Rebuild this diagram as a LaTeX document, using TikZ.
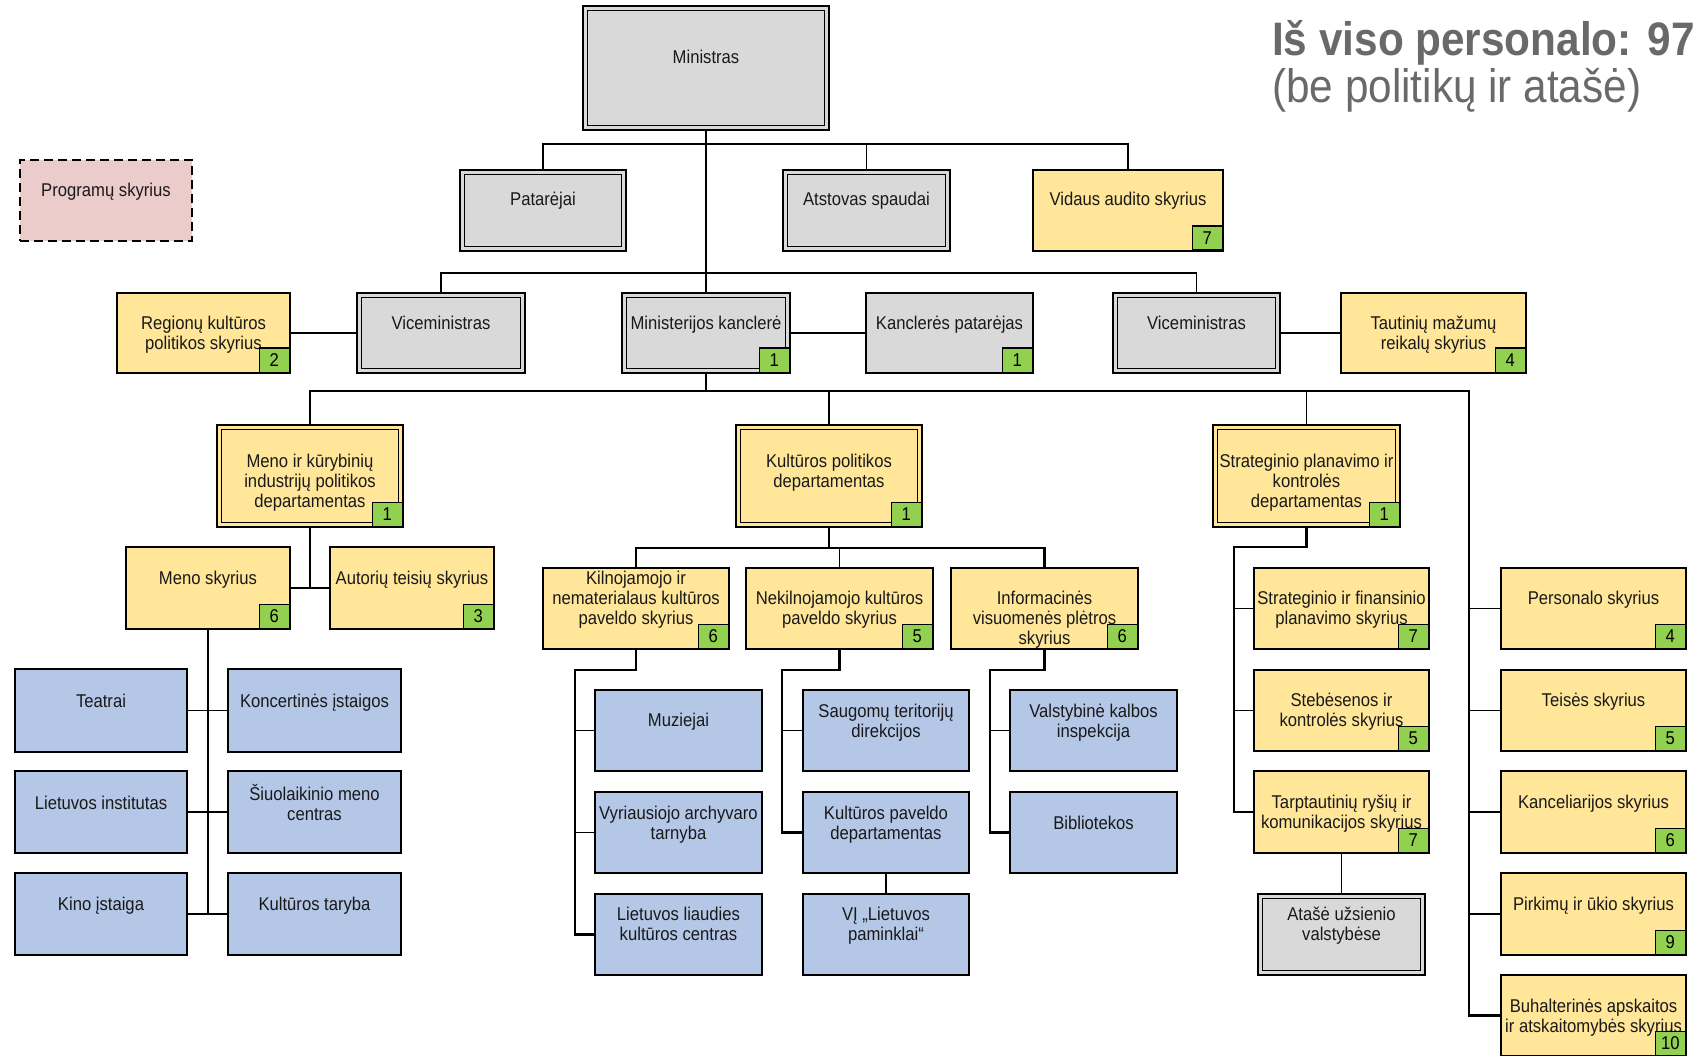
\documentclass[tikz,border=0pt]{standalone}
\usepackage{fontspec}
\setmainfont{Liberation Sans}[FakeStretch=0.9]
\usetikzlibrary{calc}

\definecolor{ylw}{HTML}{FFE699}
\definecolor{gry}{HTML}{D9D9D9}
\definecolor{blu}{HTML}{B4C7E7}
\definecolor{pnk}{HTML}{ECCBCB}
\definecolor{grn}{HTML}{92D050}
\definecolor{headgray}{HTML}{696969}

% multi-line centred label with uniform line struts
\newcommand\lns[1]{\begin{tabular}{@{}c@{}}#1\end{tabular}}
% box given by its corners: style, name, x1, y1, x2, y2
\newcommand\orgbox[6]{\node[#1, minimum width={#5pt-#3pt}, minimum height={#6pt-#4pt}] (#2) at ({(#3+#5)/2},{(#4+#6)/2}) {};}
% text of a box: name, x, y, lines
\newcommand\orgtext[4]{\node[lbl] (#1) at (#2,#3) {\lns{#4}};}
% staff count in the lower right corner of a box
\newcommand\staff[2]{\node[badge] (#1-n) at (#1.south east) {#2};}

\tikzset{
  boxbase/.style={rectangle, draw=black, line width=1.5pt, inner sep=0pt, outer sep=0pt},
  inner/.style={path picture={\draw[line width=1.2pt]
      ([xshift=4.5pt,yshift=-4.5pt]path picture bounding box.north west) rectangle
      ([xshift=-4.5pt,yshift=4.5pt]path picture bounding box.south east);}},
  ybox/.style={boxbase, fill=ylw},
  ydbl/.style={boxbase, fill=ylw, inner},
  gbox/.style={boxbase, fill=gry},
  gdbl/.style={boxbase, fill=gry, inner},
  bbox/.style={boxbase, fill=blu},
  pbox/.style={boxbase, fill=pnk, dashed, dash pattern=on 9pt off 5pt},
  lbl/.style={inner sep=0pt, yshift=-2pt, text=black!90, font=\fontsize{18.5}{20}\selectfont},
  badge/.style={rectangle, anchor=south east, draw=black, line width=1.5pt, fill=grn,
      minimum width=30pt, minimum height=24pt, inner sep=0pt,
      font=\fontsize{18.5}{20}\selectfont},
  head/.style={anchor=base west, inner sep=0pt, text=headgray},
  conn/.style={line width=1.5pt},
  trunk/.style={line width=2.6pt},
  elb/.style={line width=2.2pt},
}

\begin{document}
\begin{tikzpicture}[x=1pt, y=-1pt]
\useasboundingbox (0,0) rectangle (1699,1056);

% ---------- heading ----------
\node[head, font=\fontsize{47}{52}\selectfont\bfseries] (hd1) at (1272,56) {Iš viso personalo: 97};
\node[head, font=\fontsize{47}{52}\selectfont] (hd2) at (1272,103) {(be politikų ir atašė)};

% ---------- top management ----------
\orgbox{gdbl}{min}{583}{6}{829}{130}
\orgtext{min-t}{706}{58}{Ministras}

\orgbox{pbox}{prog}{20}{160}{192}{241}
\orgtext{prog-t}{106}{191}{Programų skyrius}

\orgbox{gdbl}{pat}{460}{170}{626}{251}
\orgtext{pat-t}{543}{200}{Patarėjai}
\orgbox{gdbl}{ats}{783}{170}{950}{251}
\orgtext{ats-t}{866.5}{200}{Atstovas spaudai}
\orgbox{ybox}{vid}{1033}{170}{1223}{251}
\orgtext{vid-t}{1128}{200}{Vidaus audito skyrius}
\staff{vid}{7}

% ---------- second row ----------
\orgbox{ybox}{reg}{117}{293}{290}{373}
\orgtext{reg-t}{203.5}{334}{Regionų kultūros\\politikos skyrius}
\staff{reg}{2}
\orgbox{gdbl}{vl}{357}{293}{525}{373}
\orgtext{vl-t}{441}{324}{Viceministras}
\orgbox{gdbl}{kanc}{622}{293}{790}{373}
\orgtext{kanc-t}{706}{324}{Ministerijos kanclerė}
\staff{kanc}{1}
\orgbox{gbox}{kp}{866}{293}{1033}{373}
\orgtext{kp-t}{949.5}{324}{Kanclerės patarėjas}
\staff{kp}{1}
\orgbox{gdbl}{vr}{1113}{293}{1280}{373}
\orgtext{vr-t}{1196.5}{324}{Viceministras}
\orgbox{ybox}{taut}{1341}{293}{1526}{373}
\orgtext{taut-t}{1433.5}{334}{Tautinių mažumų\\reikalų skyrius}
\staff{taut}{4}

% ---------- departments ----------
\orgbox{ydbl}{d1}{217}{425}{403}{527}
\orgtext{d1-t}{310}{481}{Meno ir kūrybinių\\industrijų politikos\\departamentas}
\staff{d1}{1}
\orgbox{ydbl}{d2}{736}{425}{922}{527}
\orgtext{d2-t}{829}{471}{Kultūros politikos\\departamentas}
\staff{d2}{1}
\orgbox{ydbl}{d3}{1213}{425}{1400}{527}
\orgtext{d3-t}{1306.5}{481}{Strateginio planavimo ir\\kontrolės\\departamentas}
\staff{d3}{1}

% ---------- art and creative industries ----------
\orgbox{ybox}{meno}{126}{547}{290}{629}
\orgtext{meno-t}{208}{578}{Meno skyrius}
\staff{meno}{6}
\orgbox{ybox}{aut}{330}{547}{494}{629}
\orgtext{aut-t}{412}{578}{Autorių teisių skyrius}
\staff{aut}{3}

\orgbox{bbox}{teat}{15}{669}{187}{752}
\orgtext{teat-t}{101}{701}{Teatrai}
\orgbox{bbox}{konc}{228}{669}{401}{752}
\orgtext{konc-t}{314.5}{701}{Koncertinės įstaigos}
\orgbox{bbox}{linst}{15}{771}{187}{853}
\orgtext{linst-t}{101}{803}{Lietuvos institutas}
\orgbox{bbox}{siuo}{228}{771}{401}{853}
\orgtext{siuo-t}{314.5}{803}{Šiuolaikinio meno\\centras}
\orgbox{bbox}{kino}{15}{873}{187}{955}
\orgtext{kino-t}{101}{904}{Kino įstaiga}
\orgbox{bbox}{ktar}{228}{873}{401}{955}
\orgtext{ktar-t}{314.5}{904}{Kultūros taryba}

% ---------- cultural policy ----------
\orgbox{ybox}{kil}{543}{568}{729}{649}
\orgtext{kil-t}{636}{598}{Kilnojamojo ir\\nematerialaus kultūros\\paveldo skyrius}
\staff{kil}{6}
\orgbox{ybox}{nek}{746}{568}{933}{649}
\orgtext{nek-t}{839.5}{608.5}{Nekilnojamojo kultūros\\paveldo skyrius}
\staff{nek}{5}
\orgbox{ybox}{inf}{951}{568}{1138}{649}
\orgtext{inf-t}{1044.5}{618}{Informacinės\\visuomenės plėtros\\skyrius}
\staff{inf}{6}

\orgbox{bbox}{muz}{595}{690}{762}{771}
\orgtext{muz-t}{678.5}{720}{Muziejai}
\orgbox{bbox}{arch}{595}{792}{762}{873}
\orgtext{arch-t}{678.5}{823}{Vyriausiojo archyvaro\\tarnyba}
\orgbox{bbox}{liaud}{595}{894}{762}{975}
\orgtext{liaud-t}{678.5}{924}{Lietuvos liaudies\\kultūros centras}

\orgbox{bbox}{saug}{803}{690}{969}{771}
\orgtext{saug-t}{886}{721}{Saugomų teritorijų\\direkcijos}
\orgbox{bbox}{kpd}{803}{792}{969}{873}
\orgtext{kpd-t}{886}{823}{Kultūros paveldo\\departamentas}
\orgbox{bbox}{vi}{803}{894}{969}{975}
\orgtext{vi-t}{886}{924}{VĮ „Lietuvos\\paminklai“}

\orgbox{bbox}{vkl}{1010}{690}{1177}{771}
\orgtext{vkl-t}{1093.5}{721}{Valstybinė kalbos\\inspekcija}
\orgbox{bbox}{bibl}{1010}{792}{1177}{873}
\orgtext{bibl-t}{1093.5}{823}{Bibliotekos}

% ---------- strategic planning ----------
\orgbox{ybox}{sfin}{1254}{568}{1429}{649}
\orgtext{sfin-t}{1341.5}{608.5}{Strateginio ir finansinio\\planavimo skyrius}
\staff{sfin}{7}
\orgbox{ybox}{steb}{1254}{670}{1429}{751}
\orgtext{steb-t}{1341.5}{710}{Stebėsenos ir\\kontrolės skyrius}
\staff{steb}{5}
\orgbox{ybox}{tarp}{1254}{771}{1429}{853}
\orgtext{tarp-t}{1341.5}{812}{Tarptautinių ryšių ir\\komunikacijos skyrius}
\staff{tarp}{7}
\orgbox{gdbl}{atase}{1258}{894}{1425}{975}
\orgtext{atase-t}{1341.5}{924}{Atašė užsienio\\valstybėse}

% ---------- units under the chancellor ----------
\orgbox{ybox}{pers}{1501}{568}{1686}{649}
\orgtext{pers-t}{1593.5}{598}{Personalo skyrius}
\staff{pers}{4}
\orgbox{ybox}{teis}{1501}{670}{1686}{751}
\orgtext{teis-t}{1593.5}{700}{Teisės skyrius}
\staff{teis}{5}
\orgbox{ybox}{kanc2}{1501}{771}{1686}{853}
\orgtext{kanc2-t}{1593.5}{802}{Kanceliarijos skyrius}
\staff{kanc2}{6}
\orgbox{ybox}{pirk}{1501}{873}{1686}{955}
\orgtext{pirk-t}{1593.5}{904}{Pirkimų ir ūkio skyrius}
\staff{pirk}{9}
\orgbox{ybox}{buh}{1501}{975}{1686}{1056}
\orgtext{buh-t}{1593.5}{1016}{Buhalterinės apskaitos\\ir atskaitomybės skyrius}
\staff{buh}{10}

% ---------- connectors ----------
\coordinate (b1) at (706,144);
\coordinate (b2) at (706,273);
\coordinate (b3) at (706,391);
\coordinate (rv) at (1469,391);
\coordinate (b4) at (829,548);
\coordinate (k1) at (575,670);
\coordinate (n1) at (782,670);
\coordinate (i1) at (990,670);
\coordinate (s1) at (1234,547);

\draw[trunk] (min.south) -- (kanc.north);
\draw[trunk] (kanc.south) -- (b3);
\draw[conn] (pat.north) |- (b1) -| (vid.north);
\draw[conn] (ats.north) -- (ats.north |- b1);
\draw[conn] (vl.north) |- (b2) -| (vr.north);
\draw[conn] (reg.east) -- (vl.west);
\draw[conn] (kanc.east) -- (kp.west);
\draw[conn] (vr.east) -- (taut.west);

\draw[conn] (d1.north) |- (b3);
\draw[trunk] (b3) -- (rv) |- (buh.west);
\draw[conn] (d2.north) -- (d2.north |- b3);
\draw[conn] (d3.north) -- (d3.north |- b3);
\foreach \n in {pers,teis,kanc2,pirk}
  \draw[conn] (\n.west) -- (\n.west -| rv);

\draw[elb] (d1.south) -- (d1.south |- meno.east);
\draw[conn] (meno.east) -- (aut.west);
\draw[elb] (meno.south) -- (meno.south |- kino.east);
\draw[conn] (teat.east) -- (konc.west);
\draw[conn] (linst.east) -- (siuo.west);
\draw[conn] (kino.east) -- (ktar.west);

\draw[elb] (d2.south) -- (b4);
\draw[elb] (kil.north) |- (b4) -| (inf.north);
\draw[conn] (nek.north) -- (nek.north |- b4);
\draw[elb] (kil.south) |- (k1) |- (liaud.west);
\draw[conn] (muz.west) -- (muz.west -| k1);
\draw[conn] (arch.west) -- (arch.west -| k1);
\draw[elb] (nek.south) |- (n1) |- (kpd.west);
\draw[conn] (saug.west) -- (saug.west -| n1);
\draw[conn] (kpd.south) -- (vi.north);
\draw[elb] (inf.south) |- (i1) |- (bibl.west);
\draw[conn] (vkl.west) -- (vkl.west -| i1);

\draw[elb] (d3.south) |- (s1) |- (tarp.west);
\draw[conn] (sfin.west) -- (sfin.west -| s1);
\draw[conn] (steb.west) -- (steb.west -| s1);
\draw[conn] (tarp.south) -- (atase.north);
\end{tikzpicture}
\end{document}
